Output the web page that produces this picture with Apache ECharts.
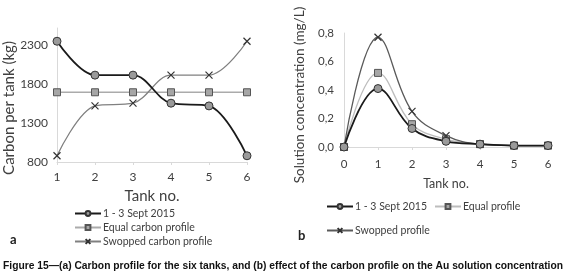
<!DOCTYPE html>
<html>
<head>
<meta charset="utf-8">
<script src="https://cdn.jsdelivr.net/npm/echarts@6/dist/echarts.min.js"></script>
<style>
  html, body { margin: 0; padding: 0; background: #fff; }
  #main { width: 567px; height: 277px; }
</style>
</head>
<body>
<div id="main"></div>
<script>
  // (a) carbon per tank
  var tanksA = ['1', '2', '3', '4', '5', '6'];
  var septA = [2350, 1915, 1915, 1555, 1520, 880];
  var equalA = [1695, 1695, 1695, 1695, 1695, 1695];
  var swopA = [880, 1520, 1555, 1915, 1915, 2350];
  var ticksA = [800, 1300, 1800, 2300];

  // (b) solution concentration
  var tanksB = ['0', '1', '2', '3', '4', '5', '6'];
  var septB = [0, 0.41, 0.13, 0.04, 0.02, 0.01, 0.01];
  var equalB = [0, 0.52, 0.16, 0.055, 0.02, 0.01, 0.01];
  var swopB = [0, 0.77, 0.25, 0.08, 0.02, 0.01, 0.01];

  var captionText = 'Figure 15\u2014(a) Carbon profile for the six tanks, and (b) effect of the carbon profile on the Au solution concentration';

  var myChart = echarts.init(document.getElementById('main'));
  var font = 'Lato';
  var txt = '#404040';
  var crossPath = 'path://M0,0L10,10M10,0L0,10';
  var captionFont = 'bold 11px "Liberation Sans"';

  // squeeze the caption to the page width (condensed look)
  var ctx = document.createElement('canvas').getContext('2d');
  ctx.font = captionFont;
  var capScale = 560 / ctx.measureText(captionText).width;

  var axisLineGray = { lineStyle: { color: '#d9d9d9' } };
  var legendText = { fontFamily: font, fontSize: 10.5, color: txt, padding: [0, 0, 0, -3] };

  var option = {
    backgroundColor: '#fff',
    animation: false,
    graphic: [
      { type: 'text', left: 10, top: 233, style: { text: 'a', fontFamily: font, fontWeight: 'bold', fontSize: 13, fill: '#222' } },
      { type: 'text', left: 298, top: 229, style: { text: 'b', fontFamily: font, fontWeight: 'bold', fontSize: 13, fill: '#222' } },
      {
        type: 'text', x: 3, y: 260, scaleX: capScale,
        style: { text: captionText, font: captionFont, fill: '#111' }
      }
    ],
    legend: [
      {
        orient: 'vertical', left: 69, top: 203, itemGap: 3, itemWidth: 26, itemHeight: 6,
        textStyle: legendText,
        data: ['1 - 3 Sept 2015', 'Equal carbon profile', 'Swopped carbon profile']
      },
      {
        orient: 'horizontal', left: 321, top: 196, itemGap: 7, itemWidth: 26, itemHeight: 6,
        textStyle: legendText,
        data: ['1 - 3 Sept 2015', 'Equal profile']
      },
      {
        orient: 'horizontal', left: 321, top: 220, itemWidth: 26, itemHeight: 6,
        textStyle: legendText,
        data: ['Swopped profile']
      }
    ],
    grid: [
      { left: 57, top: 28, width: 190, height: 134 },
      { left: 344, top: 33, width: 204, height: 114 }
    ],
    xAxis: [
      {
        gridIndex: 0, type: 'category', data: tanksA, boundaryGap: false,
        name: 'Tank no.', nameLocation: 'middle', nameGap: 27,
        nameTextStyle: { fontFamily: font, fontSize: 15, color: txt },
        axisLine: axisLineGray,
        axisTick: { show: true, length: 3, lineStyle: { color: '#d9d9d9' } },
        axisLabel: { fontFamily: font, fontSize: 12, color: txt, margin: 9 }
      },
      {
        gridIndex: 1, type: 'category', data: tanksB, boundaryGap: false,
        name: 'Tank no.', nameLocation: 'middle', nameGap: 30,
        nameTextStyle: { fontFamily: font, fontSize: 12.5, color: txt },
        axisLine: axisLineGray,
        axisTick: { show: true, length: 3, lineStyle: { color: '#d9d9d9' } },
        axisLabel: { fontFamily: font, fontSize: 11.5, color: txt, margin: 11 }
      }
    ],
    yAxis: [
      {
        gridIndex: 0, type: 'value', min: 800, max: 2520, interval: 500,
        name: 'Carbon per tank (kg)', nameLocation: 'middle', nameGap: 38,
        nameTextStyle: { fontFamily: font, fontSize: 15, color: txt, padding: [0, 26, 0, 0] },
        axisLine: { show: true, lineStyle: { color: '#d9d9d9' } },
        axisTick: { show: false },
        splitLine: { show: false },
        axisLabel: {
          fontFamily: font, fontSize: 12, color: txt, margin: 9,
          formatter: function (v) { return ticksA.indexOf(v) >= 0 ? String(v) : ''; }
        }
      },
      {
        gridIndex: 1, type: 'value', min: 0, max: 0.8, interval: 0.2,
        name: 'Solution concentration (mg/L)', nameLocation: 'middle', nameGap: 37,
        nameTextStyle: { fontFamily: font, fontSize: 13.5, color: txt, padding: [0, 10, 0, 0] },
        axisLine: { show: true, lineStyle: { color: '#d9d9d9' } },
        axisTick: { show: false },
        splitLine: { show: false },
        axisLabel: {
          fontFamily: font, fontSize: 11.5, color: txt, margin: 10,
          formatter: function (v) { return v.toFixed(1).replace('.', ','); }
        }
      }
    ],
    series: [
      {
        name: 'Equal carbon profile', type: 'line', xAxisIndex: 0, yAxisIndex: 0, data: equalA,
        symbol: 'rect', symbolSize: 7, lineStyle: { color: '#ababab', width: 1.3 },
        itemStyle: { color: '#a6a6a6', borderColor: '#555', borderWidth: 1 }
      },
      {
        name: 'Swopped carbon profile', type: 'line', xAxisIndex: 0, yAxisIndex: 0, data: swopA, smooth: 0.35,
        symbol: crossPath, symbolSize: 7, lineStyle: { color: '#808080', width: 1.3 },
        itemStyle: { color: '#333', borderColor: '#333', borderWidth: 1.2 }
      },
      {
        name: '1 - 3 Sept 2015', type: 'line', xAxisIndex: 0, yAxisIndex: 0, data: septA, smooth: 0.35,
        symbol: 'circle', symbolSize: 8, lineStyle: { color: '#1a1a1a', width: 1.8 },
        itemStyle: { color: '#9a9a9a', borderColor: '#333', borderWidth: 1 }
      },
      {
        name: 'Equal profile', type: 'line', xAxisIndex: 1, yAxisIndex: 1, data: equalB, smooth: 0.4,
        symbol: 'rect', symbolSize: 7, lineStyle: { color: '#bdbdbd', width: 1.3 },
        itemStyle: { color: '#a6a6a6', borderColor: '#555', borderWidth: 1 }
      },
      {
        name: 'Swopped profile', type: 'line', xAxisIndex: 1, yAxisIndex: 1, data: swopB, smooth: 0.4,
        symbol: crossPath, symbolSize: 7, lineStyle: { color: '#5a5a5a', width: 1.3 },
        itemStyle: { color: '#333', borderColor: '#333', borderWidth: 1.2 }
      },
      {
        name: '1 - 3 Sept 2015', type: 'line', xAxisIndex: 1, yAxisIndex: 1, data: septB, smooth: 0.4,
        symbol: 'circle', symbolSize: 8, lineStyle: { color: '#1a1a1a', width: 1.8 },
        itemStyle: { color: '#9a9a9a', borderColor: '#333', borderWidth: 1 }
      }
    ]
  };
  myChart.setOption(option);
</script>
</body>
</html>
